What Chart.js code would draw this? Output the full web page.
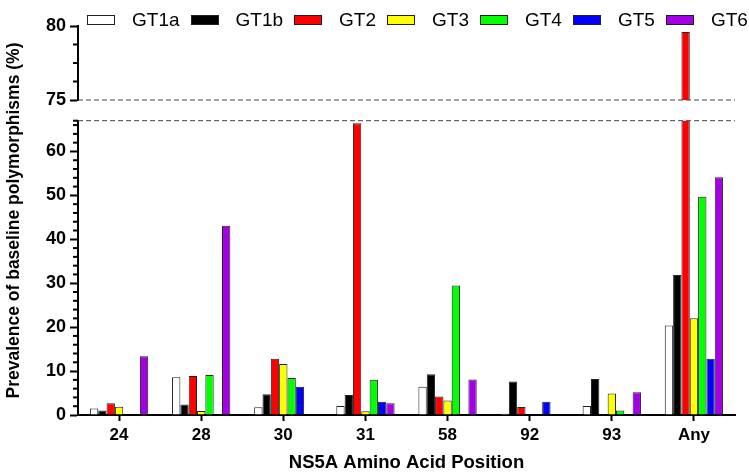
<!DOCTYPE html>
<html>
<head>
<meta charset="utf-8">
<script src="https://cdn.jsdelivr.net/npm/chart.js@4"></script>
<style>
  html, body { margin: 0; padding: 0; background: #fff; overflow: hidden; }
  #wrap { position: relative; width: 749px; height: 472px; }
  #legend {
    position: absolute; left: 87px; top: 9px;
    display: flex; white-space: nowrap;
    font: 19px "Liberation Sans", Arial, sans-serif; color: #000;
  }
  .item { display: flex; align-items: center; margin-right: 11px; }
  .swatch { width: 26px; height: 8px; border: 1px solid #222; margin-right: 17px; }
</style>
</head>
<body>
<div id="wrap">
  <canvas id="chart" width="749" height="472"></canvas>
  <div id="legend"></div>
</div>
<script>
const POSITIONS = ['24', '28', '30', '31', '58', '92', '93', 'Any'];
const SERIES = ['GT1a', 'GT1b', 'GT2', 'GT3', 'GT4', 'GT5', 'GT6'];
const COLORS = ['#ffffff', '#000000', '#ff0000', '#ffff00', '#00ff00', '#0000ff', '#a300e6'];

const GT1A = [1.5, 8.6, 1.75, 2.05, 6.45, 0.3, 2.05, 20.4];
const GT1B = [1.0, 2.4, 4.7, 4.55, 9.3, 7.6, 8.2, 31.9];
const GT2 = [2.7, 8.9, 12.8, 66.4, 4.2, 1.8, 0, 79.6];
const GT3 = [1.9, 0.9, 11.6, 0.85, 3.3, 0.1, 4.9, 22.0];
const GT4 = [0, 9.1, 8.4, 8.0, 29.5, 0, 1.05, 49.7];
const GT5 = [0, 0, 6.45, 3.0, 0, 3.0, 0, 12.8];
const GT6 = [13.4, 43.1, 0, 2.65, 8.1, 0, 5.2, 54.1];
const VALUES = [GT1A, GT1B, GT2, GT3, GT4, GT5, GT6];

// broken y axis: lower segment 0-67, upper segment 75-80
const LOW_TICKS = [0, 2, 4, 6, 8, 10, 12, 14, 16, 18, 20, 22, 24, 26, 28, 30, 32, 34,
  36, 38, 40, 42, 44, 46, 48, 50, 52, 54, 56, 58, 60, 62, 64, 66, 67];
const LOW_LABELS = [0, 10, 20, 30, 40, 50, 60];
const HIGH_TICKS = [75, 76.25, 77.5, 78.75, 80];
const HIGH_LABELS = [75, 80];

const FONT = '"Liberation Sans", Arial, sans-serif';

/**
 * Clips each dataset to the band of its own y scale
 */
const clipToScale = {
  id: 'clipToScale',
  beforeDatasetDraw(chart, args) {
    const y = args.meta.yScale;
    const area = chart.chartArea;
    const ctx = chart.ctx;
    ctx.save();
    ctx.beginPath();
    ctx.rect(area.left, y.top, area.right - area.left, y.bottom - y.top);
    ctx.clip();
  },
  afterDatasetDraw(chart) {
    chart.ctx.restore();
  }
};

/**
 * Dashed lines at the axis break, plus the short minor ticks
 */
const breakMarks = {
  id: 'breakMarks',
  beforeDatasetsDraw(chart) {
    const { ctx, chartArea, scales } = chart;
    const ys = [
      scales.yHigh.getPixelForValue(HIGH_TICKS[0]),
      scales.yLow.getPixelForValue(LOW_TICKS[LOW_TICKS.length - 1])
    ];
    ctx.save();
    ctx.setLineDash([5, 3]);
    ctx.strokeStyle = '#444';
    ctx.lineWidth = 1;
    ys.forEach((y) => {
      ctx.beginPath();
      ctx.moveTo(chartArea.left, y);
      ctx.lineTo(chartArea.right, y);
      ctx.stroke();
    });
    ctx.restore();
  },
  afterDraw(chart) {
    const ctx = chart.ctx;
    ctx.save();
    ctx.strokeStyle = '#000';
    ctx.lineWidth = 2;
    [['yLow', LOW_LABELS], ['yHigh', HIGH_LABELS]].forEach(([id, labels]) => {
      const scale = chart.scales[id];
      scale.ticks.forEach((t) => {
        if (labels.includes(t.value)) return;
        const y = scale.getPixelForValue(t.value);
        ctx.beginPath();
        ctx.moveTo(scale.right - 5, y);
        ctx.lineTo(scale.right, y);
        ctx.stroke();
      });
    });
    ctx.restore();
  }
};

function yAxis(ticks, labels, weight) {
  return {
    type: 'linear',
    position: 'left',
    stack: 'y',
    stackWeight: weight,
    stacked: false,
    min: ticks[0],
    max: ticks[ticks.length - 1],
    afterBuildTicks(scale) {
      scale.ticks = ticks.map((v) => ({ value: v }));
    },
    afterFit(scale) {
      scale.width = 53;
    },
    border: { display: true, color: '#000', width: 2 },
    grid: {
      drawOnChartArea: false,
      tickLength: 8,
      tickWidth: 2,
      tickColor: (c) => (c.tick && labels.includes(c.tick.value) ? '#000' : 'rgba(0,0,0,0)')
    },
    ticks: {
      autoSkip: false,
      padding: 4,
      color: '#000',
      font: { family: FONT, size: 18, weight: 'bold' },
      callback: (v) => (labels.includes(v) ? String(v) : '')
    }
  };
}

// legend built from the series names
const legend = document.getElementById('legend');
SERIES.forEach((name, i) => {
  const item = document.createElement('div');
  item.className = 'item';
  const sw = document.createElement('span');
  sw.className = 'swatch';
  sw.style.background = COLORS[i];
  const label = document.createElement('span');
  label.textContent = name;
  item.appendChild(sw);
  item.appendChild(label);
  legend.appendChild(item);
});

const datasets = [];
['yLow', 'yHigh'].forEach((axis) => {
  SERIES.forEach((name, i) => {
    datasets.push({
      label: name,
      data: VALUES[i],
      yAxisID: axis,
      stack: name,
      backgroundColor: COLORS[i],
      borderColor: '#222',
      borderWidth: 1
    });
  });
});

new Chart(document.getElementById('chart'), {
  type: 'bar',
  data: { labels: POSITIONS, datasets },
  options: {
    responsive: false,
    animation: false,
    categoryPercentage: 0.71,
    barPercentage: 1,
    layout: { padding: { top: 26, right: 14, bottom: 0, left: 0 } },
    plugins: {
      legend: { display: false },
      tooltip: { enabled: false },
      title: {
        display: true,
        text: 'Prevalence of baseline polymorphisms (%)',
        position: 'left',
        fullSize: false,
        color: '#000',
        font: { family: FONT, size: 17.5, weight: 'bold' },
        padding: { top: 4, bottom: 0 }
      }
    },
    scales: {
      x: {
        type: 'category',
        afterFit(scale) {
          scale.height = 57;
        },
        border: { display: true, color: '#000', width: 2 },
        grid: {
          display: true,
          drawOnChartArea: false,
          offset: false,
          tickLength: 6,
          tickWidth: 2,
          tickColor: '#000'
        },
        ticks: {
          padding: 4,
          color: '#000',
          font: { family: FONT, size: 17, weight: 'bold' }
        },
        title: {
          display: true,
          text: 'NS5A Amino Acid Position',
          color: '#000',
          font: { family: FONT, size: 18.5, weight: 'bold' },
          padding: { top: 0, bottom: -2 }
        }
      },
      yLow: yAxis(LOW_TICKS, LOW_LABELS, 294.3),
      yGap: {
        type: 'linear',
        position: 'left',
        stack: 'y',
        stackWeight: 20.7,
        min: LOW_TICKS[LOW_TICKS.length - 1],
        max: HIGH_TICKS[0],
        afterFit(scale) {
          scale.width = 53;
        },
        border: { display: false },
        grid: { display: false },
        ticks: { display: false }
      },
      yHigh: yAxis(HIGH_TICKS, HIGH_LABELS, 74)
    }
  },
  plugins: [clipToScale, breakMarks]
});
</script>
</body>
</html>
